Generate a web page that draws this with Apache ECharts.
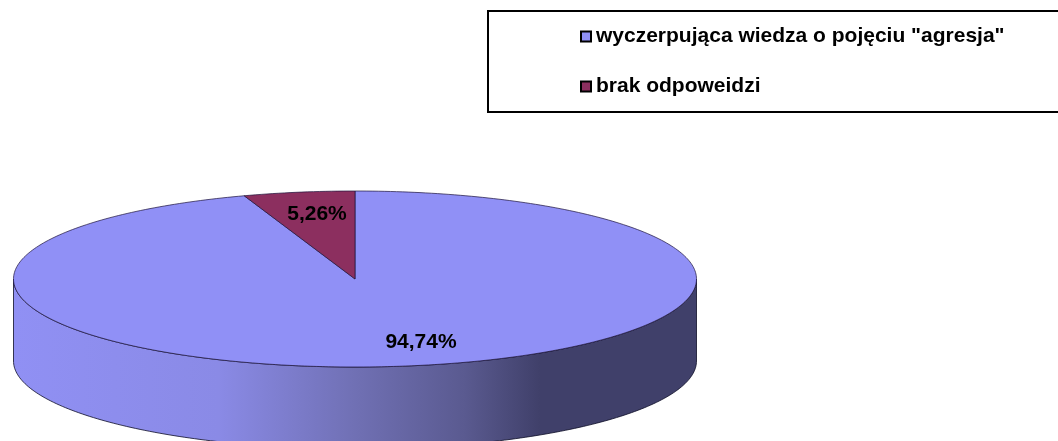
<!DOCTYPE html>
<html>
<head>
<meta charset="utf-8">
<style>html,body{margin:0;padding:0;background:#fff}#pie{width:1058px;height:441px}</style>
<script src="https://cdn.jsdelivr.net/npm/echarts@6/dist/echarts.min.js"></script>
</head>
<body>
<div id="pie"></div>
<script>
var categories = ['wyczerpująca wiedza o pojęciu "agresja"', 'brak odpoweidzi'];
var values = [94.74, 5.26];
var colors = ['#9090f6', '#8c2f5f'];

// ellipse of the tilted pie
var cx = 355, cy = 279, rx = 341.5, ry = 88, depth = 82;
var total = values[0] + values[1];

function point(turn, dy){
	var a = turn * Math.PI * 2;
	return [cx + rx * Math.sin(a), cy - ry * Math.cos(a) + (dy || 0)];
}

function arc(from, to, dy){
	var pts = [];
	var n = Math.max(2, Math.ceil(Math.abs(to - from) * 360));
	for(var i = 0; i <= n; i++){
		pts.push(point(from + (to - from) * i / n, dy));
	}
	return pts;
}

function sideShape(){
	// front wall, only the lower half of the ellipse can be seen
	var pts = arc(0.25, 0.75, 0).concat(arc(0.75, 0.25, depth));
	return {
		type: 'polygon',
		shape: {points: pts},
		style: {
			fill: new echarts.graphic.LinearGradient(0, 0, 1, 0, [
				{offset: 0, color: '#9090f4'},
				{offset: 0.3, color: '#8a8ae6'},
				{offset: 0.5, color: '#7070b4'},
				{offset: 0.66, color: '#5a5a90'},
				{offset: 0.77, color: '#40406a'},
				{offset: 1, color: '#40406a'}
			]),
			stroke: 'rgba(15,15,40,0.8)',
			lineWidth: 1
		}
	};
}

function labelText(value, x, y){
	return {
		type: 'text',
		x: x,
		y: y,
		style: {
			text: value.toFixed(2).replace('.', ',') + '%',
			fill: '#000',
			font: 'bold 21px "Liberation Sans", Arial, sans-serif',
			align: 'center',
			verticalAlign: 'middle'
		}
	};
}

function sliceSeries(index, labelX, labelY){
	var start = 0;
	for(var i = 0; i < index; i++){
		start += values[i];
	}
	return {
		name: categories[index],
		type: 'custom',
		coordinateSystem: 'none',
		silent: true,
		itemStyle: {color: colors[index]},
		data: [[values[index]]],
		renderItem: function(params, api){
			var from = start / total;
			var to = (start + api.value(0)) / total;
			var children = [];
			if(index == 0){
				children.push(sideShape());
			}
			children.push({
				type: 'polygon',
				shape: {points: [[cx, cy]].concat(arc(from, to, 0))},
				style: {fill: colors[index], stroke: 'rgba(30,20,60,0.7)', lineWidth: 1}
			});
			children.push(labelText(api.value(0), labelX, labelY));
			return {type: 'group', children: children};
		}
	};
}

echarts.init(document.getElementById('pie')).setOption({
	animation: false,
	legend: {
		orient: 'vertical',
		left: 488,
		top: 11,
		padding: [15, 100, 15, 92],
		itemGap: 29,
		itemWidth: 10,
		itemHeight: 10,
		icon: 'rect',
		selectedMode: false,
		borderColor: '#000',
		borderWidth: 2,
		itemStyle: {borderColor: '#000', borderWidth: 2},
		textStyle: {
			color: '#000',
			fontWeight: 'bold',
			fontFamily: '"Liberation Sans", Arial, sans-serif',
			fontSize: 21
		},
		data: categories
	},
	series: [
		sliceSeries(0, 421, 342),
		sliceSeries(1, 317, 214)
	]
});
</script>
</body>
</html>
